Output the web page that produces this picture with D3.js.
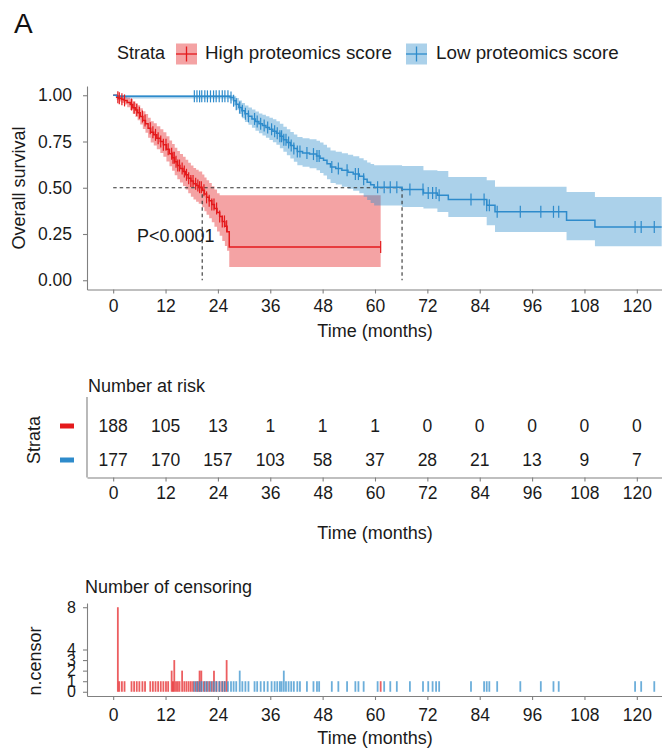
<!DOCTYPE html>
<html>
<head>
<meta charset="utf-8">
<script src="https://cdnjs.cloudflare.com/ajax/libs/d3/7.8.5/d3.min.js"></script>
<style>
  body { margin: 0; background: #fff; }
</style>
</head>
<body>
<script>
    // tick labels / categories
    var tickMonths = [0, 12, 24, 36, 48, 60, 72, 84, 96, 108, 120];
    var survTicks = [0, 0.25, 0.5, 0.75, 1];
    var censorTicks = [0, 1, 2, 3, 4, 8];
    var strata = ["High proteomics score", "Low proteomics score"];

    // number at risk
    var riskHigh = [188, 105, 13, 1, 1, 1, 0, 0, 0, 0, 0];
    var riskLow = [177, 170, 157, 103, 58, 37, 28, 21, 13, 9, 7];

    // KM curve, high score (value holds from that time on)
    var highTime = [0, 0.8, 1.3, 1.9, 2.5, 3.2, 3.9, 4.5, 5.1, 5.6, 6.2, 6.8, 7.4, 8.0, 8.6, 9.3, 10.0, 10.8, 11.5, 12.2,
                    12.9, 13.5, 14.1, 14.7, 15.3, 16.0, 16.6, 17.2, 17.8, 18.4, 19.0, 19.6, 20.4, 20.9, 21.4,
                    22.0, 22.6, 23.2, 23.8, 24.4, 25.0, 25.6, 26.1, 26.6];
    var highSurv = [1, .989, .984, .978, .972, .961, .950, .933, .920, .905, .885, .864, .846, .822, .800, .786, .768, .750, .732, .708,
                    .684, .662, .640, .620, .604, .588, .570, .552, .536, .522, .512, .503, .486, .466, .448,
                    .430, .410, .388, .366, .344, .318, .292, .262, .180];
    var highUpper = [1, 1, 1, .998, .995, .988, .980, .968, .958, .946, .930, .913, .898, .878, .860, .848, .832, .816, .800, .778,
                     .756, .736, .716, .698, .683, .668, .652, .635, .620, .607, .597, .588, .572, .556, .541,
                     .526, .508, .490, .470, .460, .460, .460, .460, .460];
    var highLower = [1, .975, .966, .958, .950, .935, .920, .900, .883, .865, .842, .818, .797, .770, .745, .728, .708, .688, .668, .642,
                     .616, .592, .568, .546, .528, .510, .490, .470, .452, .437, .425, .414, .395, .373, .354,
                     .335, .313, .289, .264, .240, .212, .185, .160, .072];
    var highEnd = 61.3;

    // KM curve, low score
    var lowTime = [0, 0.8, 26.8, 27.6, 28.2, 28.8, 29.5, 30.2, 31.0, 31.8, 32.6, 33.4, 34.2, 35.0, 35.8, 36.6, 37.4, 38.2, 39.0, 39.8,
                   40.6, 41.4, 42.2, 43.4, 45.0, 46.6, 47.4, 48.2, 49.0, 49.8, 51.0, 52.4, 53.8, 55.0, 56.4, 57.4, 58.2, 59.0, 59.8,
                   66.2, 71.1, 74.3, 76.8, 85.6, 87.5, 103.9, 110.4];
    var lowSurv = [1, .994, .988, .970, .952, .934, .916, .900, .886, .872, .858, .846, .836, .826, .816, .806, .794, .778, .760, .744,
                   .728, .712, .696, .688, .682, .672, .660, .648, .630, .612, .604, .594, .584, .574, .562, .546, .530, .516, .503,
                   .490, .472, .459, .437, .405, .370, .324, .288];
    var lowUpper = [1, 1, 1, .995, .985, .972, .958, .945, .934, .923, .912, .902, .894, .886, .878, .870, .860, .846, .830, .816,
                    .802, .788, .774, .767, .762, .754, .744, .733, .718, .702, .695, .687, .678, .670, .660, .648, .636, .628, .622,
                    .618, .595, .590, .558, .540, .505, .477, .450];
    var lowLower = [1, .983, .972, .945, .922, .898, .876, .856, .840, .824, .808, .794, .782, .770, .758, .746, .732, .714, .694, .676,
                    .658, .640, .622, .613, .606, .594, .580, .566, .546, .526, .517, .506, .495, .484, .470, .452, .434, .418, .404,
                    .396, .388, .369, .342, .297, .261, .216, .184];
    var lowEnd = 125.7;

    // censoring times and counts
    var highCensorTime = [1.07, 1.4, 2.0, 2.6, 4.2, 4.8, 5.4, 6.0, 6.7, 7.3, 8.5, 9.1, 9.7, 10.3, 10.9, 11.5, 12.1, 12.6,
                          13.4, 13.7, 14.0, 14.4, 14.8, 15.2, 15.8, 16.3, 16.8, 17.3, 17.8, 18.3, 18.9, 19.4, 19.8, 20.2,
                          20.8, 21.4, 22.0, 22.6, 23.1, 23.7, 24.4, 25.0, 25.5, 26.0, 61.3];
    var highCensorN = [8, 1, 1, 1, 1, 1, 1, 1, 1, 1, 1, 1, 1, 1, 1, 1, 1, 1,
                       2, 1, 3, 1, 1, 1, 2, 1, 1, 1, 1, 1, 1, 1, 2, 2,
                       1, 1, 1, 1, 2, 1, 1, 1, 1, 3, 1];
    var lowCensorTime = [18.6, 19.2, 19.8, 20.3, 21.0, 21.6, 22.3, 23.0, 23.6, 24.3, 25.0, 25.6, 26.3, 27.0, 27.6, 28.2, 29.0, 29.6,
                         30.3, 31.0, 32.4, 33.0, 33.8, 34.6, 35.4, 36.3, 37.0, 37.6, 38.2, 38.6, 39.1, 39.6, 40.2, 40.8,
                         41.4, 42.2, 42.8, 44.4, 45.9, 46.7, 47.2, 50.1, 51.6, 53.6, 55.5, 56.2, 57.4, 60.6, 62.1, 63.5,
                         65.0, 68.0, 71.0, 72.2, 73.2, 74.0, 74.7, 82.0, 85.0, 85.6, 86.2, 88.0, 93.3, 98.0, 100.9, 102.1,
                         119.6, 121.0, 124.0];
    var lowCensorN = [1, 1, 1, 1, 1, 1, 1, 1, 1, 1, 1, 1, 1, 1, 1, 1, 2, 1,
                      1, 1, 1, 1, 1, 1, 1, 1, 1, 1, 1, 1, 2, 1, 1, 1,
                      1, 1, 1, 1, 1, 1, 1, 1, 1, 1, 1, 1, 1, 1, 1, 1,
                      1, 1, 1, 1, 1, 1, 1, 1, 1, 1, 1, 1, 1, 1, 1, 1,
                      1, 1, 1];

    var pText = "P<0.0001";

    var FONT = "'Liberation Sans', Arial, Helvetica, sans-serif";
    var red = "#E41A1C", blue = "#2E8BCB";
    var axisGrey = "#808080";

    var svg = d3.select("body").append("svg")
                .attr("width", 662)
                .attr("height", 750)
                .attr("font-family", FONT);

    // shared time scale
    var x = d3.scaleLinear().domain([-6, 126]).range([87, 663]);

    var yMain = d3.scaleLinear().domain([-0.05, 1.05]).range([289.5, 86]);
    var yRisk = d3.scalePoint().domain(strata).range([426, 460]);
    var yCens = d3.scaleLinear().domain([-0.4, 8.4]).range([696, 603]);

    function styleAxis(g, size) {
        g.attr("font-family", FONT).attr("font-size", size);
        g.select(".domain").attr("stroke", axisGrey).attr("stroke-width", 1.1);
        g.selectAll(".tick line").attr("stroke", axisGrey).attr("stroke-width", 1.1);
        g.selectAll(".tick text").attr("fill", "#1a1a1a");
    }

    function build(times, surv, upper, lower, end) {
        var pts = times.map(function (t, i) {
            return {t: t, s: surv[i], hi: upper[i], lo: lower[i]};
        });
        var last = pts[pts.length - 1];
        pts.push({t: end, s: last.s, hi: last.hi, lo: last.lo});
        return pts;
    }

    function survAt(times, surv, t) {
        var i = d3.bisectRight(times, t) - 1;
        return surv[Math.max(i, 0)];
    }

    function medianOf(times, surv) {
        for (var i = 0; i < surv.length; i++) {
            if (surv[i] <= 0.5) return times[i];
        }
        return null;
    }

    var groups = [
        {name: strata[0], color: red, pts: build(highTime, highSurv, highUpper, highLower, highEnd),
         times: highTime, surv: highSurv, cT: highCensorTime, cN: highCensorN, risk: riskHigh},
        {name: strata[1], color: blue, pts: build(lowTime, lowSurv, lowUpper, lowLower, lowEnd),
         times: lowTime, surv: lowSurv, cT: lowCensorTime, cN: lowCensorN, risk: riskLow}
    ];

    // panel label
    svg.append("text").attr("x", 14).attr("y", 33).attr("font-size", 28).attr("fill", "#111").text("A");

    // legend
    var legend = svg.append("g").attr("fill", "#1a1a1a");
    legend.append("text").attr("x", 117).attr("y", 58.5).attr("font-size", 18).text("Strata");
    var keyX = [176, 406], textX = [205, 436];
    groups.forEach(function (g, i) {
        var k = legend.append("g").attr("transform", "translate(" + keyX[i] + ",43.5)");
        k.append("rect").attr("width", 21).attr("height", 21)
         .attr("fill", g.color).attr("fill-opacity", 0.4);
        k.append("line").attr("x1", 0).attr("x2", 21).attr("y1", 10.5).attr("y2", 10.5)
         .attr("stroke", g.color).attr("stroke-width", 1.3);
        k.append("line").attr("x1", 10.5).attr("x2", 10.5).attr("y1", 3).attr("y2", 18)
         .attr("stroke", g.color).attr("stroke-width", 1.3);
        legend.append("text").attr("x", textX[i]).attr("y", 58.5)
              .attr("font-size", 18.8).text(g.name);
    });

    // ---- survival panel ----
    var area = d3.area()
                 .x(function (d) { return x(d.t); })
                 .y0(function (d) { return yMain(d.lo); })
                 .y1(function (d) { return yMain(d.hi); })
                 .curve(d3.curveStepAfter);
    var line = d3.line()
                 .x(function (d) { return x(d.t); })
                 .y(function (d) { return yMain(d.s); })
                 .curve(d3.curveStepAfter);

    svg.selectAll(".band")
       .data(groups)
       .enter().append("path")
       .attr("class", "band")
       .attr("d", function (g) { return area(g.pts); })
       .attr("fill", function (g) { return g.color; })
       .attr("fill-opacity", 0.4);

    // median lines
    var medians = groups.map(function (g) { return medianOf(g.times, g.surv); });
    var dash = svg.append("g").attr("stroke", "#333").attr("stroke-width", 1.1)
                  .attr("stroke-dasharray", "3.5,3").attr("fill", "none");
    dash.append("line")
        .attr("x1", x(0)).attr("x2", x(d3.max(medians)))
        .attr("y1", yMain(0.5)).attr("y2", yMain(0.5));
    medians.forEach(function (m) {
        dash.append("line")
            .attr("x1", x(m)).attr("x2", x(m))
            .attr("y1", yMain(0.5)).attr("y2", yMain(0));
    });

    svg.selectAll(".curve")
       .data(groups)
       .enter().append("path")
       .attr("class", "curve")
       .attr("d", function (g) { return line(g.pts); })
       .attr("fill", "none")
       .attr("stroke", function (g) { return g.color; })
       .attr("stroke-width", 1.5);

    groups.forEach(function (g) {
        svg.append("g").selectAll("line")
           .data(g.cT)
           .enter().append("line")
           .attr("x1", function (t) { return x(t); })
           .attr("x2", function (t) { return x(t); })
           .attr("y1", function (t) { return yMain(survAt(g.times, g.surv, t)) - 6; })
           .attr("y2", function (t) { return yMain(survAt(g.times, g.surv, t)) + 6; })
           .attr("stroke", g.color)
           .attr("stroke-width", 1.2);
    });

    svg.append("text").attr("x", 137).attr("y", 241.5).attr("font-size", 18)
       .attr("fill", "#1a1a1a").text(pText);

    svg.append("g").attr("transform", "translate(0,289.5)")
       .call(d3.axisBottom(x).tickValues(tickMonths).tickSize(4).tickSizeOuter(0).tickPadding(6))
       .call(styleAxis, 17.5);
    svg.append("g").attr("transform", "translate(87,0)")
       .call(d3.axisLeft(yMain).tickValues(survTicks).tickFormat(d3.format(".2f"))
             .tickSize(4).tickSizeOuter(0).tickPadding(11))
       .call(styleAxis, 17.5);

    svg.append("text").attr("x", 375).attr("y", 337).attr("text-anchor", "middle")
       .attr("font-size", 18).attr("fill", "#1a1a1a").text("Time (months)");
    svg.append("text").attr("transform", "translate(25,188) rotate(-90)")
       .attr("text-anchor", "middle").attr("font-size", 18).attr("fill", "#1a1a1a")
       .text("Overall survival");

    // ---- risk table ----
    svg.append("text").attr("x", 88).attr("y", 392).attr("font-size", 18)
       .attr("fill", "#1a1a1a").text("Number at risk");

    groups.forEach(function (g) {
        svg.append("g").selectAll("text")
           .data(g.risk)
           .enter().append("text")
           .attr("x", function (d, i) { return x(tickMonths[i]); })
           .attr("y", yRisk(g.name))
           .attr("dy", "0.36em")
           .attr("text-anchor", "middle")
           .attr("font-size", 17.5)
           .attr("fill", "#1a1a1a")
           .text(function (d) { return d; });
        svg.append("rect")
           .attr("x", 60).attr("y", yRisk(g.name) - 2.5)
           .attr("width", 14).attr("height", 5)
           .attr("fill", g.color);
    });

    svg.append("line").attr("x1", 87).attr("x2", 87).attr("y1", 397).attr("y2", 477.5)
       .attr("stroke", axisGrey).attr("stroke-width", 1.1);
    svg.append("g").attr("transform", "translate(0,477.5)")
       .call(d3.axisBottom(x).tickValues(tickMonths).tickSize(4).tickSizeOuter(0).tickPadding(5))
       .call(styleAxis, 17.5);

    svg.append("text").attr("x", 375).attr("y", 539).attr("text-anchor", "middle")
       .attr("font-size", 18).attr("fill", "#1a1a1a").text("Time (months)");
    svg.append("text").attr("transform", "translate(40,440) rotate(-90)")
       .attr("text-anchor", "middle").attr("font-size", 18).attr("fill", "#1a1a1a")
       .text("Strata");

    // ---- censoring plot ----
    svg.append("text").attr("x", 85).attr("y", 593).attr("font-size", 18)
       .attr("fill", "#1a1a1a").text("Number of censoring");

    groups.forEach(function (g) {
        svg.append("g").selectAll("line")
           .data(g.cT)
           .enter().append("line")
           .attr("x1", function (t) { return x(t); })
           .attr("x2", function (t) { return x(t); })
           .attr("y1", yCens(0))
           .attr("y2", function (t, i) { return yCens(g.cN[i]); })
           .attr("stroke", g.color)
           .attr("stroke-opacity", 0.7)
           .attr("stroke-width", 1.8);
    });

    svg.append("g").attr("transform", "translate(0,696)")
       .call(d3.axisBottom(x).tickValues(tickMonths).tickSize(4).tickSizeOuter(0).tickPadding(9))
       .call(styleAxis, 17.5);
    svg.append("g").attr("transform", "translate(87,0)")
       .call(d3.axisLeft(yCens).tickValues(censorTicks).tickSize(4).tickSizeOuter(0).tickPadding(7))
       .call(styleAxis, 16);

    svg.append("text").attr("x", 375).attr("y", 744).attr("text-anchor", "middle")
       .attr("font-size", 18).attr("fill", "#1a1a1a").text("Time (months)");
    svg.append("text").attr("transform", "translate(41,661) rotate(-90)")
       .attr("text-anchor", "middle").attr("font-size", 18).attr("fill", "#1a1a1a")
       .text("n.censor");
</script>
</body>
</html>
